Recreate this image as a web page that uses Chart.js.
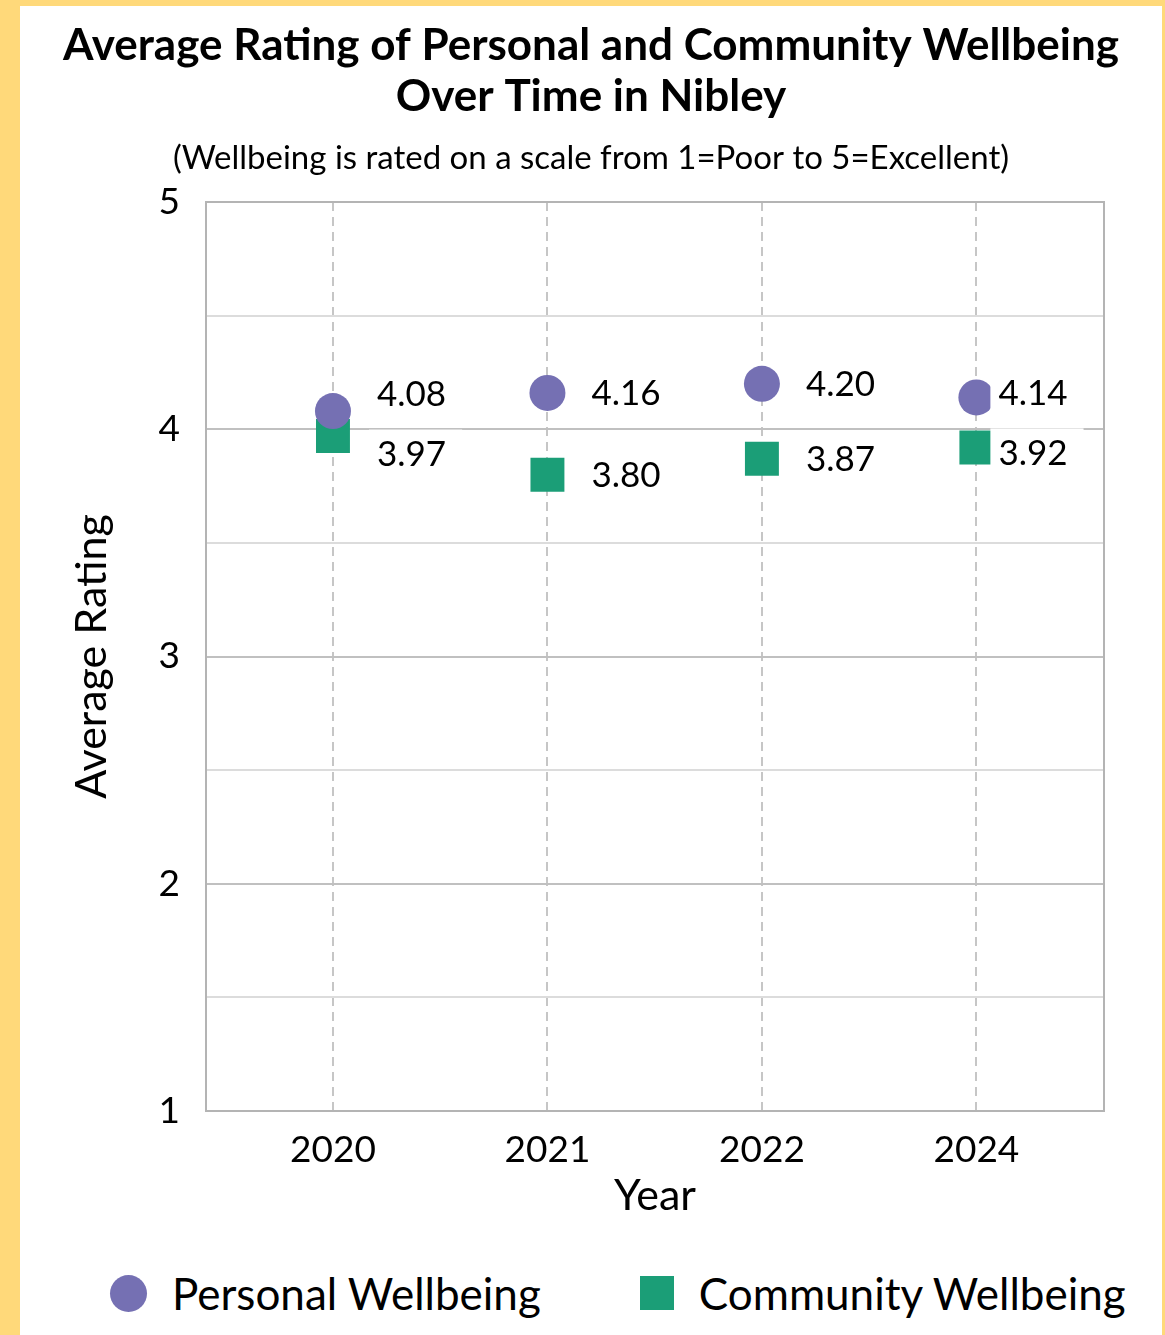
<!DOCTYPE html>
<html><head><meta charset="utf-8">
<script src="https://cdn.jsdelivr.net/npm/chart.js@4.4.1/dist/chart.umd.min.js"></script>
<style>
html,body{margin:0;padding:0;background:#FFD97A;}
body{width:1165px;height:1335px;position:relative;overflow:hidden;font-family:Lato,sans-serif;}
#panel{position:absolute;left:20px;top:6px;width:1142px;height:1329px;background:#fff;}
#wrap{position:absolute;left:0;top:0;width:1142px;height:1240px;}
#legend{position:absolute;left:90px;top:1261px;height:52px;display:flex;align-items:center;gap:99px;font-size:44px;color:#000;}
.item{display:flex;align-items:center;gap:25px;white-space:nowrap;}
.mk{display:inline-block;}
</style></head><body>
<div id="panel"><div id="wrap"><canvas id="c"></canvas></div><div id="legend"></div></div>
<script>
const years = ['2020', '2021', '2022', '2024'];
const personal = [4.08, 4.16, 4.20, 4.14];
const community = [3.97, 3.80, 3.87, 3.92];
const yTicks = [1, 2, 3, 4, 5];
const seriesNames = ['Personal Wellbeing', 'Community Wellbeing'];

const PURPLE = '#7570B3', GREEN = '#1B9E77';
const FONT = 'Lato';

const labelPlugin = {
  id: 'pointLabels',
  afterDatasetsDraw(chart) {
    const ctx = chart.ctx;
    const metas = chart.data.datasets.map((d, i) => chart.getDatasetMeta(i));
    const n = years.length;
    ctx.save();
    ctx.font = '35px ' + FONT;
    ctx.textBaseline = 'middle';
    ctx.textAlign = 'left';
    for (let j = 0; j < n; j++) {
      const items = metas.map((m, i) => ({ el: m.data[j], v: chart.data.datasets[i].data[j].y }));
      let ys = items.map(it => it.el.y);
      const minSep = 60;
      if (Math.abs(ys[1] - ys[0]) < minSep) {
        const mid = (ys[0] + ys[1]) / 2;
        const s = ys[0] < ys[1] ? -1 : 1;
        ys = [mid + s * minSep / 2, mid - s * minSep / 2];
      }
      const offset = j === n - 1 ? 22 : 44;
      items.forEach((it, k) => {
        const txt = it.v.toFixed(2);
        const x = it.el.x + offset;
        const w = ctx.measureText(txt).width;
        ctx.fillStyle = '#fff';
        ctx.fillRect(x - 8, ys[k] - 24, w + 24, 48);
        ctx.fillStyle = '#000';
        ctx.fillText(txt, x, ys[k] + 1);
      });
    }
    ctx.restore();
  }
};

const framePlugin = {
  id: 'frame',
  beforeDatasetsDraw(chart) {
    const { ctx, chartArea: a } = chart;
    ctx.save();
    ctx.strokeStyle = '#b4b4b4';
    ctx.lineWidth = 2;
    ctx.strokeRect(a.left, a.top, a.right - a.left, a.bottom - a.top);
    ctx.restore();
  }
};

const chart = new Chart(document.getElementById('c'), {
  type: 'scatter',
  data: {
    datasets: [
      { label: seriesNames[0], data: personal.map((v, i) => ({ x: i, y: v })),
        pointStyle: 'circle', pointRadius: 18, pointHoverRadius: 18, backgroundColor: PURPLE, borderWidth: 0 },
      { label: seriesNames[1], data: community.map((v, i) => ({ x: i, y: v })),
        pointStyle: 'rect', pointRadius: 24, pointHoverRadius: 24, backgroundColor: GREEN, borderWidth: 0 }
    ]
  },
  options: {
    responsive: true,
    maintainAspectRatio: false,
    animation: false,
    devicePixelRatio: 1,
    layout: { padding: { left: 0, right: 0, top: 0, bottom: 0 } },
    plugins: {
      legend: { display: false },
      tooltip: { enabled: false },
      title: {
        display: true,
        text: ['Average Rating of Personal and Community Wellbeing', 'Over Time in Nibley'],
        color: '#000',
        font: { family: FONT, size: 44, weight: 'bold', lineHeight: 51 / 44 },
        padding: { top: 14.5, bottom: 0 }
      },
      subtitle: {
        display: true,
        text: '(Wellbeing is rated on a scale from 1=Poor to 5=Excellent)',
        color: '#000',
        font: { family: FONT, size: 33, lineHeight: 36 / 33 },
        padding: { top: 17.5, bottom: 26 }
      }
    },
    scales: {
      x: {
        type: 'linear',
        min: -0.592,
        max: 3.595,
        afterBuildTicks: s => { s.ticks = years.map((y, i) => ({ value: i })); },
        afterFit: s => { s.height = 135; },
        ticks: { callback: v => years[v], color: '#000', font: { family: FONT, size: 37, lineHeight: 1.2 }, padding: 17, maxRotation: 0, autoSkip: false },
        grid: { color: '#c6c6c6', lineWidth: 2, drawTicks: false },
        border: { display: true, color: '#b4b4b4', width: 2, dash: [9, 6] },
        title: { display: true, text: 'Year', color: '#000', font: { family: FONT, size: 43, lineHeight: 1.2 }, padding: { top: 0, bottom: 24 } }
      },
      y: {
        min: 1,
        max: 5,
        afterBuildTicks: s => {
          const t = [];
          yTicks.forEach((v, i) => { t.push({ value: v }); if (i < yTicks.length - 1) t.push({ value: v + 0.5 }); });
          s.ticks = t;
        },
        afterFit: s => { s.width = 186; },
        ticks: { callback: v => (Number.isInteger(v) ? v : ''), color: '#000', font: { family: FONT, size: 37, lineHeight: 1.2 }, padding: 26 },
        grid: { color: c => (c.tick && Number.isInteger(c.tick.value) ? '#c0c0c0' : '#dcdcdc'), lineWidth: 2, drawTicks: false },
        border: { display: true, color: '#b4b4b4', width: 2 },
        title: { display: true, text: 'Average Rating', color: '#000', font: { family: FONT, size: 43, lineHeight: 1.2 }, padding: { top: 46, bottom: 0 } }
      },
      yRightSpace: {
        position: 'right',
        display: true,
        min: 1,
        max: 5,
        afterFit: s => { s.width = 58; },
        ticks: { display: false },
        grid: { display: false, drawTicks: false },
        border: { display: false }
      }
    }
  },
  plugins: [framePlugin, labelPlugin]
});

// HTML legend built from the chart datasets
const leg = document.getElementById('legend');
chart.data.datasets.forEach(ds => {
  const item = document.createElement('div');
  item.className = 'item';
  const mk = document.createElement('span');
  mk.className = 'mk';
  const sz = ds.pointStyle === 'circle' ? 37 : 34;
  mk.style.width = sz + 'px';
  mk.style.height = sz + 'px';
  mk.style.background = ds.backgroundColor;
  if (ds.pointStyle === 'circle') mk.style.borderRadius = '50%';
  const tx = document.createElement('span');
  tx.textContent = ds.label;
  item.appendChild(mk);
  item.appendChild(tx);
  leg.appendChild(item);
});
</script>
</body></html>
